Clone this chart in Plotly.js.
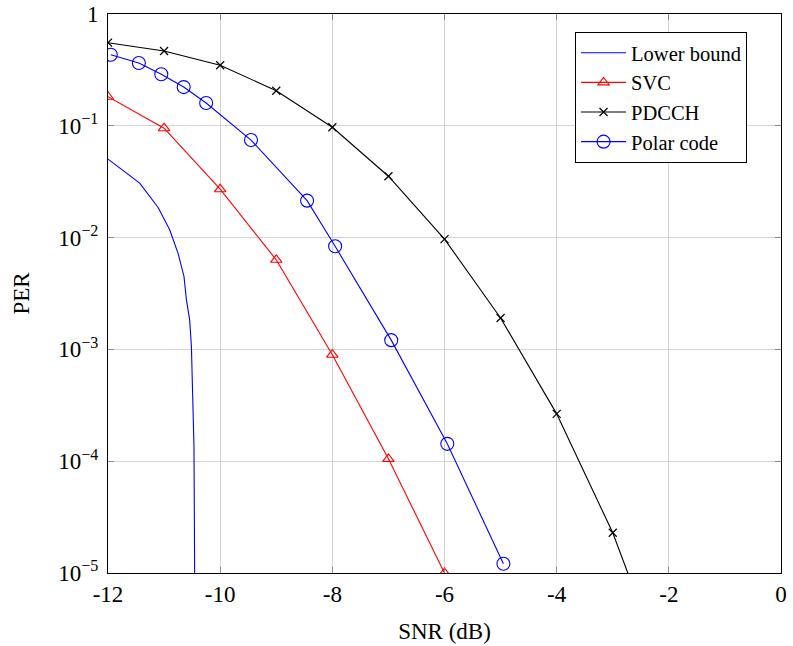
<!DOCTYPE html>
<html>
<head>
<meta charset="utf-8">
<script src="https://cdn.plot.ly/plotly-3.0.1.min.js"></script>
<style>html,body{margin:0;padding:0;background:#fff;}#chart{width:793px;height:646px;}</style>
</head>
<body>
<div id="chart"></div>
<script>
// ---- data ----
const lbX = [-12, -11.435, -11.109, -10.900, -10.752, -10.645, -10.602, -10.544, -10.513, -10.485, -10.467, -10.455, -10.45];
const lbY = [0.0503, 0.0307, 0.0187, 0.01175, 0.00727, 0.00449, 0.00278, 0.00184, 0.00106, 3.8e-4, 1.36e-4, 1.0e-5, 1e-6];

const svcX = [-12, -11, -10, -9, -8, -7, -6];
const svcY = [0.182, 0.0952, 0.0271, 0.00633, 8.97e-4, 1.05e-4, 1.0e-5];

const pdcchX = [-12, -11, -10, -9, -8, -7, -6, -5, -4, -3, -2];
const pdcchY = [0.554, 0.467, 0.348, 0.206, 0.0971, 0.0354, 0.0097, 0.00191, 2.65e-4, 2.29e-5, 1.05e-6];

const polarX = [-11.95, -11.45, -11.05, -10.65, -10.25, -9.45, -8.45, -7.95, -6.95, -5.95, -4.95];
const polarY = [0.432, 0.364, 0.289, 0.222, 0.160, 0.0746, 0.0214, 0.00836, 0.00121, 1.43e-4, 1.21e-5];

const xTickVals = [-12, -10, -8, -6, -4, -2, 0];
const xTickText = ['-12', '-10', '-8', '-6', '-4', '-2', '0'];
const yTickVals = [1e-5, 1e-4, 1e-3, 1e-2, 1e-1, 1];
const yTickText = ['10<sup>−5</sup>', '10<sup>−4</sup>', '10<sup>−3</sup>', '10<sup>−2</sup>', '10<sup>−1</sup>', '1'];

const FONT = 'Liberation Serif, Times New Roman, serif';

const traces = [
  {x: lbX, y: lbY, name: 'Lower bound', mode: 'lines', line: {color: '#0000ff', width: 1.1}},
  {x: svcX, y: svcY, name: 'SVC', mode: 'lines+markers', line: {color: '#ff0000', width: 1.1},
   marker: {symbol: 'triangle-up-open', size: 10, color: '#ff0000', line: {width: 1.1}}},
  {x: pdcchX, y: pdcchY, name: 'PDCCH', mode: 'lines+markers', line: {color: '#000000', width: 1.1},
   marker: {symbol: 'x-thin-open', size: 8, color: '#000000', line: {width: 1.2, color: '#000000'}}},
  {x: polarX, y: polarY, name: 'Polar code', mode: 'lines+markers', line: {color: '#0000ff', width: 1.1},
   marker: {symbol: 'circle-open', size: 13, color: '#0000ff', line: {width: 1.1}}}
];

const layout = {
  width: 793, height: 646,
  margin: {l: 108, r: 12, t: 14, b: 73},
  paper_bgcolor: '#fff', plot_bgcolor: '#fff',
  font: {family: FONT, size: 22, color: '#000'},
  showlegend: true,
  legend: {
    x: 0.694, y: 0.968, xanchor: 'left', yanchor: 'top',
    bordercolor: '#000', borderwidth: 1, bgcolor: '#fff',
    font: {family: FONT, size: 20.5, color: '#000'},
    itemwidth: 45, tracegroupgap: 0
  },
  xaxis: {
    range: [-12, 0],
    tickvals: xTickVals, ticktext: xTickText,
    ticks: 'inside', ticklen: 6, tickcolor: '#888', tickwidth: 1,
    showline: true, linecolor: '#000', linewidth: 1, mirror: 'ticks',
    showgrid: true, gridcolor: '#d4d4d4', gridwidth: 1,
    zeroline: false,
    tickfont: {family: FONT, size: 23},
    title: {text: 'SNR (dB)', font: {family: FONT, size: 23}, standoff: 17}
  },
  yaxis: {
    type: 'log', range: [-5, 0],
    tickvals: yTickVals, ticktext: yTickText,
    ticks: 'inside', ticklen: 6, tickcolor: '#888', tickwidth: 1,
    showline: true, linecolor: '#000', linewidth: 1, mirror: 'ticks',
    showgrid: true, gridcolor: '#d4d4d4', gridwidth: 1,
    zeroline: false,
    tickfont: {family: FONT, size: 23},
    ticklabelstandoff: 4,
    title: {text: 'PER', font: {family: FONT, size: 23}, standoff: 22}
  }
};

Plotly.newPlot('chart', traces, layout, {displayModeBar: false, staticPlot: true});
</script>
</body>
</html>
